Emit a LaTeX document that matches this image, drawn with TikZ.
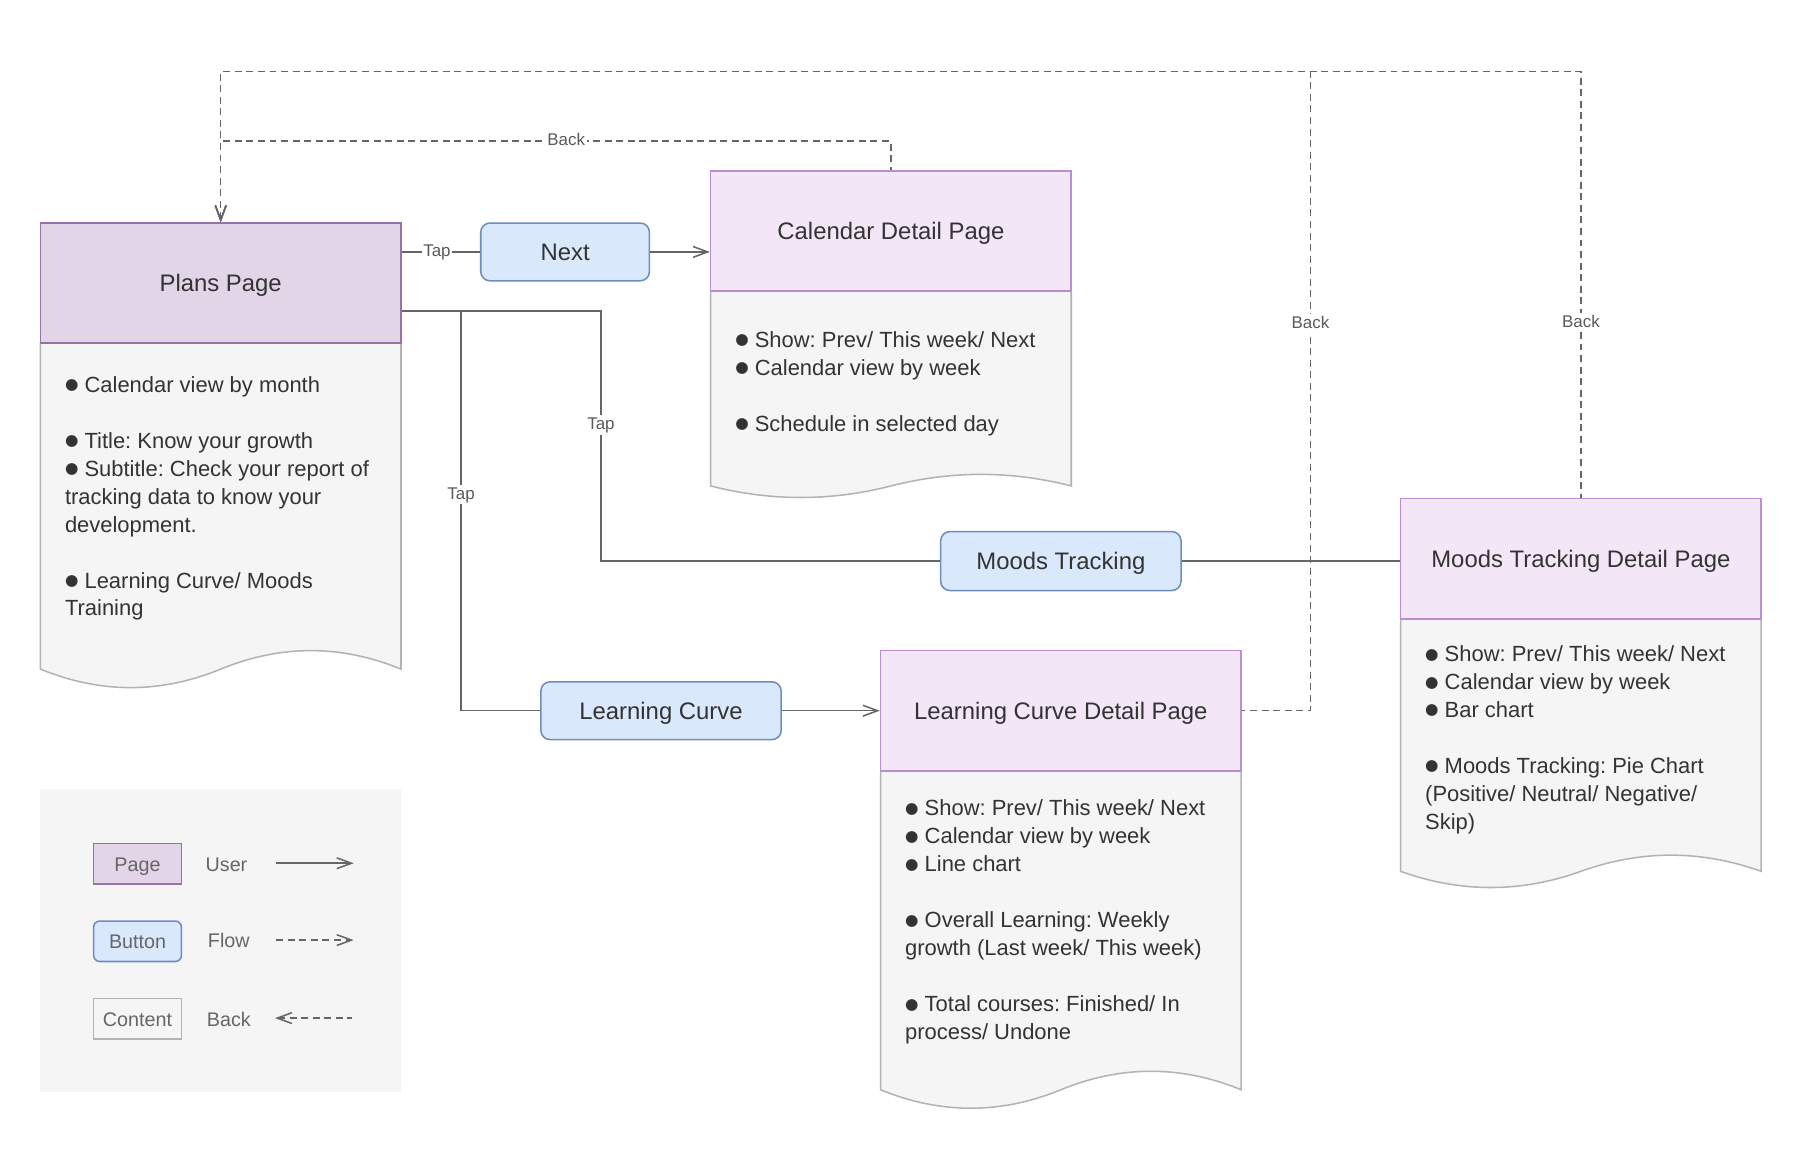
\documentclass[tikz,border=0pt]{standalone}
\usepackage{fontspec}
\setmainfont{Liberation Sans}
\newfontfamily\bulfont{DejaVu Sans}
\usetikzlibrary{arrows.meta}
\frenchspacing
\definecolor{txt}{HTML}{333333}
\definecolor{edge}{HTML}{666666}
\definecolor{lbl}{HTML}{5A5A5A}
\definecolor{legtxt}{HTML}{666666}
\definecolor{plansfill}{HTML}{E1D5E7}
\definecolor{plansdraw}{HTML}{9673A6}
\definecolor{detfill}{HTML}{F2E6F7}
\definecolor{detdraw}{HTML}{BA8DD5}
\definecolor{contfill}{HTML}{F5F5F5}
\definecolor{contdraw}{HTML}{B3B3B3}
\definecolor{btnfill}{HTML}{DAE8FC}
\definecolor{btndraw}{HTML}{6C8EBF}
\newcommand\bul{{\bulfont\fontsize{10}{10}\selectfont\raisebox{1.6pt}{●}}}
\newcommand\DocBody[4]{%
  \path[docbody] (#1,#2) -- ({#1+312},#2) -- ({#1+312},#3)
    .. controls ({#1+260},{#3-4*#4/3}) and ({#1+208},{#3-4*#4/3}) .. ({#1+156},#3)
    .. controls ({#1+104},{#3+4*#4/3}) and ({#1+52},{#3+4*#4/3}) .. (#1,#3) -- cycle;}
\tikzset{
  headbase/.style={rectangle, minimum width=234pt, minimum height=78pt, inner sep=0pt,
    line width=1pt, text=txt, font=\fontsize{15.5}{18}\selectfont,
    text height=14.2pt, text depth=3.3pt},
  planshead/.style={headbase, draw=plansdraw, fill=plansfill},
  dethead/.style={headbase, draw=detdraw, fill=detfill},
  btn/.style={rectangle, rounded corners=6pt, draw=btndraw, fill=btnfill, line width=1pt,
    inner sep=0pt, text=txt, font=\fontsize{15.5}{18}\selectfont,
    text height=14.2pt, text depth=3.3pt},
  docbody/.style={draw=contdraw, fill=contfill, line width=1pt},
  bodytext/.style={anchor=north west, inner sep=0pt, align=left, text=txt,
    font=\fontsize{14.25}{18.15}\selectfont},
  flow/.style={draw=edge, line width=1pt},
  arr/.style={arrows={-Straight Barb[length=9.5pt,width=7pt]}},
  backarr/.style={arrows={Straight Barb[length=9.5pt,width=7pt]-}},
  backline/.style={flow, dash pattern=on 4.5pt off 3pt},
  lab/.style={fill=white, inner sep=1pt, text=lbl, font=\fontsize{11}{13}\selectfont,
    text height=8.2pt, text depth=2.3pt},
  legbox/.style={rectangle, minimum width=57pt, minimum height=26.25pt, inner sep=0pt,
    line width=1pt, text=legtxt, font=\fontsize{12.8}{15}\selectfont,
    text height=12.4pt, text depth=2.7pt},
  legtext/.style={inner sep=0pt, text=legtxt, font=\fontsize{12.8}{15}\selectfont,
    text height=11.6pt, text depth=2.7pt},
}
\begin{document}
\begin{tikzpicture}[x=0.75pt, y=-0.75pt]
\useasboundingbox (0,0) rectangle (1568,1014);

% content bodies (document shapes)
\DocBody{35}{297}{579}{16}
\DocBody{615}{252}{420.5}{10}
\DocBody{1212}{535}{754}{14}
\DocBody{762}{667}{943}{16}

% page headers
\node[planshead] (Plans) at (191,245) {Plans Page};
\node[dethead] (Cal) at (771,200) {Calendar Detail Page};
\node[dethead] (MD) at (1368,483.5) {Moods Tracking Detail Page};
\node[dethead] (LD) at (918,615) {Learning Curve Detail Page};

% buttons
\node[btn, minimum width=109.5pt, minimum height=37.5pt] (Next) at (489,218) {Next};
\node[btn, minimum width=156pt, minimum height=38.25pt] (MT) at (918,485.5) {Moods Tracking};
\node[btn, minimum width=156pt, minimum height=37.5pt] (LC) at (572,615) {Learning Curve};

% content texts
\node[bodytext] (plansTxt) at (56,325.4) {\bul{} Calendar view by month\\[18.15pt]%
\bul{} Title: Know your growth\\%
\bul{} Subtitle: Check your report of\\%
tracking data to know your\\%
development.\\[18.15pt]%
\bul{} Learning Curve/ Moods\\%
Training};
\node[bodytext] (calTxt) at (636,286.4) {\bul{} Show: Prev/ This week/ Next\\%
\bul{} Calendar view by week\\[18.15pt]%
\bul{} Schedule in selected day};
\node[bodytext] (mdTxt) at (1233,558.4) {\bul{} Show: Prev/ This week/ Next\\%
\bul{} Calendar view by week\\%
\bul{} Bar chart\\[18.15pt]%
\bul{} Moods Tracking: Pie Chart\\%
(Positive/ Neutral/ Negative/\\%
Skip)};
\node[bodytext] (ldTxt) at (783,691.9) {\bul{} Show: Prev/ This week/ Next\\%
\bul{} Calendar view by week\\%
\bul{} Line chart\\[18.15pt]%
\bul{} Overall Learning: Weekly\\%
growth (Last week/ This week)\\[18.15pt]%
\bul{} Total courses: Finished/ In\\%
process/ Undone};

% user flow connectors
\coordinate (bendA) at (520,269);
\coordinate (bendB) at (399,269);
\draw[flow] (Plans.east |- Next.west) -- node[lab, pos=0.45] {Tap} (Next.west);
\draw[flow, arr] (Next.east) -- (Next.east -| Cal.west);
\draw[flow] (Plans.east |- bendA) -- (bendA) -- node[lab, pos=0.456] {Tap} (bendA |- MT.west) -- (MT.west);
\draw[flow] (bendB) -- node[lab, pos=0.46] {Tap} (bendB |- LC.west) -- (LC.west);
\draw[flow] (MT.east) -- (MT.east -| MD.west);
\draw[flow, arr] (LC.east) -- (LC.east -| LD.west);

% back connectors (drawn from Plans so dashes line up on shared runs)
\coordinate (backMid) at (191,122);
\coordinate (backTop) at (1134,62);
\draw[backline, backarr] (Plans.north) -- (backMid) -- node[lab, pos=0.5155] {Back} (backMid -| Cal.north) -- (Cal.north);
\draw[backline, backarr] (Plans.north) -- (Plans.north |- backTop) -- (backTop) -- node[lab, pos=0.3942] {Back} (backTop |- LD.east) -- (LD.east);
\draw[backline, backarr] (Plans.north) -- (Plans.north |- backTop) -- (backTop -| MD.north) -- node[lab, pos=0.589] {Back} (MD.north);

% legend
\node[rectangle, fill=contfill, minimum width=234pt, minimum height=196.5pt, inner sep=0pt] (legend) at (191,814) {};
\node[legbox, draw=plansdraw, fill=plansfill] (legPage) at (119,747.5) {Page};
\node[legbox, draw=btndraw, fill=btnfill, rounded corners=4pt] (legBtn) at (119,814.5) {Button};
\node[legbox, draw=contdraw, fill=contfill] (legCont) at (119,881.5) {Content};
\node[legtext] (legUser) at (196,748.5) {User};
\node[legtext] (legFlow) at (198,814) {Flow};
\node[legtext] (legBack) at (198,882) {Back};
\coordinate (u1) at (239,747);
\coordinate (u2) at (306,747);
\coordinate (f1) at (239,813.5);
\coordinate (f2) at (306,813.5);
\coordinate (b1) at (238,881);
\coordinate (b2) at (305,881);
\draw[flow, arr] (u1) -- (u2);
\draw[backline, arr] (f1) -- (f2);
\draw[backline, backarr] (b1) -- (b2);
\end{tikzpicture}
\end{document}
